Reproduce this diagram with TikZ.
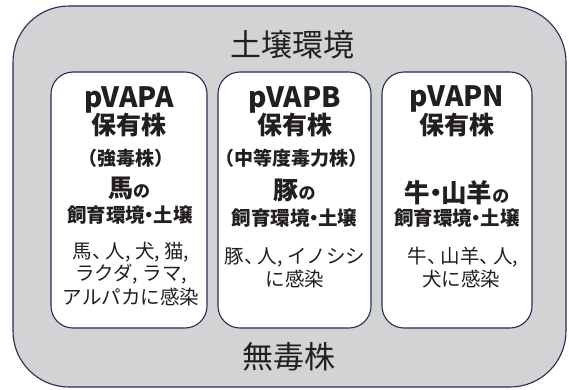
\documentclass[tikz,border=0pt]{standalone}
\usepackage{fontspec}
\setmainfont{Noto Sans CJK JP}
\definecolor{bggray}{HTML}{D1D3D4}
\definecolor{edgenavy}{HTML}{262B4F}
\definecolor{txt}{HTML}{231F20}
\newcommand{\fsz}[1]{\fontsize{#1}{#1}\selectfont}
\newcommand{\ndot}{\kern-.28em・\kern-.28em}
\newcommand{\ncm}{、\kern-.3em}
\begin{document}
\begin{tikzpicture}[x=1pt,y=-1pt,
  outerbox/.style={draw=edgenavy,fill=bggray,line width=1.1pt,rounded corners=56pt},
  innerbox/.style={draw=edgenavy,fill=white,line width=1.1pt,rounded corners=22pt},
  lbl/.style={inner sep=0pt,text=txt,align=center},
  big/.style={lbl,font=\fsz{31}},
  head/.style={lbl,font=\fsz{28}\bfseries},
  sub/.style={lbl,font=\fsz{19}\bfseries},
  body/.style={lbl,font=\fsz{19.5}}]
\useasboundingbox (0,0) rectangle (569,389);
\fill[white] (0,0) rectangle (569,389);
\draw[outerbox] (13,6) rectangle (566,387);
\draw[innerbox] (51,72) rectangle (207,328);
\draw[innerbox] (218,72) rectangle (371,328);
\draw[innerbox] (382,72) rectangle (532,328);
\node[big] (title) at (292,45) {土壌環境};
\node[big] (nontox) at (289,357) {無毒株};
% box A
\node[head] (a1) at (129,100) {pVAPA};
\node[head,font=\fsz{25}\bfseries] (a2) at (129,125) {保有株};
\node[sub] (a3) at (126,158) {（強毒株）};
\node[lbl,font=\bfseries] (a4) at (129,188) {{\fsz{25}馬}{\fsz{17}の}};
\node[sub,font=\fsz{19.5}\bfseries] (a5) at (130,215) {飼育環境\ndot 土壌};
\node[body] (a6) at (131,252) {馬\ncm 人,\ 犬,\ 猫,};
\node[body] (a7) at (131,274) {ラクダ,\ ラマ,};
\node[body] (a8) at (131,297) {アルパカに感染};
% box B
\node[head] (b1) at (294.5,100) {pVAPB};
\node[head,font=\fsz{25}\bfseries] (b2) at (294.5,125) {保有株};
\node[sub] (b3) at (291,158) {（中等度毒力株）};
\node[lbl,font=\bfseries] (b4) at (294.5,190) {{\fsz{25}豚}{\fsz{17}の}};
\node[sub,font=\fsz{19.5}\bfseries] (b5) at (294.5,218) {飼育環境\ndot 土壌};
\node[body] (b6) at (295,257) {豚\ncm 人,\ イノシシ};
\node[body] (b7) at (295,279) {に感染};
% box N
\node[head] (n1) at (457,99) {pVAPN};
\node[head,font=\fsz{25}\bfseries] (n2) at (457,125) {保有株};
\node[lbl,font=\bfseries] (n4) at (457,193) {{\fsz{25.5}牛\ndot 山羊}{\fsz{17}の}};
\node[sub,font=\fsz{19.5}\bfseries] (n5) at (457,218) {飼育環境\ndot 土壌};
\node[body] (n6) at (463,257) {牛\ncm 山羊\ncm 人,};
\node[body] (n7) at (461,279) {犬に感染};
\end{tikzpicture}
\end{document}
